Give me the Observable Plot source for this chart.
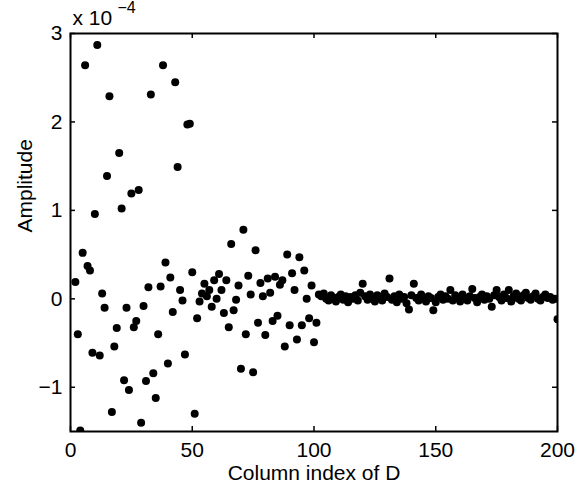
<!DOCTYPE html>
<html><head><meta charset="utf-8">
<script src="https://cdn.jsdelivr.net/npm/d3@7"></script>
<script src="https://cdn.jsdelivr.net/npm/@observablehq/plot@0.6"></script>
<style>body{margin:0;background:#fff} #chart{width:585px;height:489px}</style>
</head><body><div id="chart"></div>
<script>
// Amplitude values in units of 1e-4 (axis multiplier "x 10^-4")
const firstIndex = 2;
// columns 2..51
const ampA = [0.19, -0.40, -1.49, 0.52, 2.64, 0.37, 0.32, -0.61, 0.96, 2.87,
  -0.64, 0.06, -0.10, 1.39, 2.29, -1.28, -0.54, -0.33, 1.65, 1.02,
  -0.92, -0.10, -1.03, 1.19, -0.32, -0.25, 1.23, -1.40, -0.08, -0.93,
  0.13, 2.31, -0.84, -1.12, -0.40, 0.14, 2.64, 0.41, -0.73, 0.24,
  -0.15, 2.45, 1.49, 0.10, -0.02, -0.63, 1.97, 1.98, 0.30, -1.30];
// columns 52..102
const ampB = [-0.22, -0.03, 0.06, 0.17, 0.03, 0.10, -0.09, 0.21, 0.00, 0.28,
  0.10, -0.16, 0.21, -0.32, 0.62, -0.13, -0.01, 0.15, -0.79, 0.78,
  -0.40, 0.26, 0.05, -0.83, 0.55, -0.27, 0.18, 0.03, -0.41, 0.23,
  0.07, -0.25, 0.25, -0.19, 0.16, 0.21, -0.54, 0.50, -0.30, 0.29,
  0.10, -0.46, 0.47, -0.30, 0.32, 0.00, -0.22, 0.15, -0.49, -0.27,
  0.05];
// columns 103..200
const ampC = [0.03, 0.06, 0.00, -0.02, 0.04, 0.01, -0.03, 0.02, 0.05, -0.01,
  0.03, -0.04, 0.02, 0.00, 0.04, -0.02, 0.07, 0.17, 0.03, -0.01,
  0.05, 0.00, -0.03, 0.04, 0.01, -0.02, 0.06, 0.02, 0.23, -0.01,
  0.03, -0.04, 0.05, 0.00, 0.02, -0.05, -0.12, 0.04, 0.17, 0.01,
  -0.02, 0.05, 0.00, -0.03, 0.03, 0.01, -0.13, -0.04, 0.02, 0.05,
  -0.01, 0.03, 0.00, 0.10, -0.02, 0.04, 0.01, -0.03, 0.05, 0.00,
  -0.02, 0.03, 0.11, 0.01, -0.04, 0.02, 0.05, -0.01, 0.03, 0.00,
  -0.09, 0.04, 0.10, 0.02, -0.02, 0.05, 0.01, 0.10, -0.03, 0.03,
  0.06, 0.00, -0.02, 0.04, 0.07, 0.01, -0.01, 0.03, 0.06, 0.00,
  -0.02, 0.02, 0.05, 0.01, 0.02, -0.01, 0.00, -0.23];

const xTicks = [0, 50, 100, 150, 200];
const yTicks = [-1, 0, 1, 2, 3];
const xLabel = "Column index of D";
const yLabel = "Amplitude";
const multiplier = "x 10";
const exponent = "\u22124";

const amplitude = [...ampA, ...ampB, ...ampC];
const data = amplitude.map((a, i) => ({col: firstIndex + i, amp: a}));

const W = 585, H = 489, mL = 70, mR = 28, mT = 33, mB = 58;
const innerW = W - mL - mR, innerH = H - mT - mB, tk = 5;
const fmt = d => d < 0 ? "\u2212" + Math.abs(d) : String(d);
const fs = 21;

const chart = Plot.plot({
  width: W, height: H,
  marginLeft: mL, marginRight: mR, marginTop: mT, marginBottom: mB,
  style: {fontFamily: "'Liberation Sans', Arial, sans-serif", fontSize: fs + "px", background: "#fff", color: "#000", overflow: "visible"},
  x: {domain: [0, 200]},
  y: {domain: [-1.5, 3]},
  marks: [
    Plot.dot(data, {x: "col", y: "amp", r: 4, fill: "black", stroke: null, clip: true}),
    Plot.tickX(xTicks, {x: d => d, insetTop: innerH - tk, stroke: "black", strokeWidth: 1.5}),
    Plot.tickX(xTicks, {x: d => d, insetBottom: innerH - tk, stroke: "black", strokeWidth: 1.5}),
    Plot.tickY(yTicks, {y: d => d, insetRight: innerW - tk, stroke: "black", strokeWidth: 1.5}),
    Plot.tickY(yTicks, {y: d => d, insetLeft: innerW - tk, stroke: "black", strokeWidth: 1.5}),
    Plot.axisX({ticks: xTicks, tickSize: 0, tickPadding: 11, label: null, tickFormat: fmt, fontSize: fs}),
    Plot.axisY({ticks: yTicks, tickSize: 0, tickPadding: 8, label: null, tickFormat: fmt, fontSize: fs}),
    Plot.frame({stroke: "black", strokeWidth: 2}),
    Plot.text([xLabel], {text: d => d, frameAnchor: "bottom", dy: 42, lineAnchor: "middle", fontSize: fs}),
    Plot.text([yLabel], {text: d => d, frameAnchor: "left", dx: -45, rotate: -90, lineAnchor: "middle", fontSize: fs}),
    Plot.text([multiplier], {text: d => d, frameAnchor: "top-left", dx: 2, dy: -15, textAnchor: "start", lineAnchor: "middle", fontSize: fs}),
    Plot.text([exponent], {text: d => d, frameAnchor: "top-left", dx: 47, dy: -26, textAnchor: "start", lineAnchor: "middle", fontSize: 16})
  ]
});
document.getElementById("chart").appendChild(chart);
</script>
</body></html>
